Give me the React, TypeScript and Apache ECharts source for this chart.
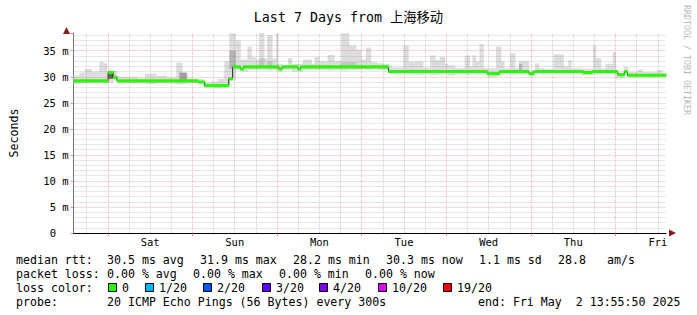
import React, { useEffect, useRef } from 'react';
import * as echarts from 'echarts';

const MONO = "'DejaVu Sans Mono', 'Noto Sans CJK SC', monospace";

const titleText = 'Last 7 Days from 上海移动';
const yAxisName = 'Seconds';
const sideText = 'RRDTOOL / TOBI OETIKER';
const dayLabels = ['Sat', 'Sun', 'Mon', 'Tue', 'Wed', 'Thu', 'Fri'];
const firstMidnightHour = 9.7;
const rangeHours = 168;
const yMax = 38.4;

// median RTT (step starts, hours since start) and values in ms
const medTimes = [0, 9.8, 11.2, 12.3, 35.3, 37.2, 44.0, 45.1, 47.3, 48.2, 58.2, 59.1, 63.6, 64.4, 89.3, 117.3, 120.7, 129.1, 130.5, 144.5, 147.0, 154.3, 156.2, 157.1];
const medValues = [29.2, 30.8, 29.9, 29.2, 29.0, 28.3, 29.6, 31.9, 31.5, 31.9, 31.5, 31.9, 31.5, 31.9, 31.0, 30.6, 31.0, 30.6, 31.0, 30.8, 31.0, 30.4, 31.0, 30.3];

// smoke segments: start hour, min rtt, max rtt
const smokeTimes = [0, 1.7, 3.1, 5.0, 7.3, 8.4, 9.5, 11.2, 12.3, 17.9, 20.2, 23.5, 26.3, 29.1, 30.8, 32.2, 36.7, 38.9, 40.9, 42.6, 42.8, 44.2, 45.9, 47.3, 49.3, 50.4, 51.5, 52.6, 54.0, 54.9, 56.3, 57.4, 58.0, 59.1, 60.8, 61.9, 65.0, 67.5, 68.3, 69.7, 72.0, 73.9, 75.9, 78.1, 80.1, 81.5, 82.9, 84.3, 86.0, 87.9, 89.3, 90.2, 93.5, 94.9, 96.9, 99.1, 101.1, 102.5, 103.9, 105.3, 106.1, 108.1, 110.9, 112.3, 113.1, 114.0, 115.1, 116.2, 117.3, 119.8, 121.2, 122.1, 123.8, 125.2, 126.3, 129.1, 130.8, 131.9, 133.3, 136.1, 138.9, 140.3, 141.1, 143.9, 147.3, 148.1, 149.5, 150.9, 152.9, 153.7, 156.0, 157.1, 159.9, 161.3, 165.5, 166.9];
const smokeLow = [28.6, 28.8, 28.8, 28.8, 28.8, 28.8, 28.9, 29.3, 28.8, 28.8, 28.6, 28.8, 28.7, 28.5, 28.6, 28.8, 28.0, 27.9, 27.9, 28.1, 28.2, 29.3, 31.3, 31.0, 31.3, 31.4, 31.3, 31.3, 31.3, 31.2, 31.3, 31.1, 31.0, 31.3, 31.3, 31.0, 31.3, 31.3, 31.3, 31.3, 31.2, 31.3, 31.2, 31.3, 31.3, 31.4, 31.3, 31.4, 31.3, 31.3, 30.6, 30.5, 30.5, 30.5, 30.4, 30.5, 30.3, 30.4, 30.5, 30.5, 30.2, 30.5, 30.3, 30.5, 30.5, 30.4, 30.4, 30.5, 29.9, 30.1, 30.5, 30.5, 30.4, 30.5, 30.5, 30.1, 30.5, 30.5, 30.6, 30.5, 30.5, 30.5, 30.6, 30.3, 30.5, 30.5, 30.6, 30.5, 30.4, 29.7, 30.2, 29.9, 29.9, 29.9, 29.9, 29.9];
const smokeHigh = [30.2, 30.8, 31.5, 31.0, 32.9, 32.6, 31.2, 31.2, 30.0, 29.7, 30.6, 30.2, 29.9, 32.7, 30.6, 29.6, 28.9, 29.1, 29.6, 31.1, 33.0, 38.4, 37.0, 33.3, 35.8, 33.8, 33.3, 38.4, 33.5, 38.0, 33.5, 38.4, 32.5, 31.9, 33.6, 32.5, 33.3, 32.5, 33.8, 33.0, 34.2, 33.0, 38.4, 36.0, 35.2, 33.3, 35.6, 32.8, 32.6, 32.5, 32.1, 31.8, 36.0, 32.9, 33.0, 31.8, 34.1, 33.2, 33.8, 32.5, 32.2, 31.7, 34.1, 32.0, 34.1, 32.9, 36.3, 31.7, 31.6, 35.8, 33.0, 31.6, 34.5, 31.7, 33.0, 31.2, 32.6, 31.7, 31.5, 34.3, 32.0, 33.2, 31.6, 31.5, 36.0, 33.6, 31.6, 32.5, 34.7, 30.8, 31.9, 30.9, 31.4, 30.9, 31.3, 30.8];

// denser smoke patches: start hour, end hour, low, high, shade
const denseStart = [9.8, 30.0, 44.2, 52.6, 54.9, 75.9, 126.3];
const denseEnd = [11.2, 32.0, 45.9, 54.0, 56.3, 80.1, 127.1];
const denseLow = [29.6, 29.3, 31.5, 31.8, 32.0, 31.8, 31.2];
const denseHigh = [30.9, 30.8, 35.0, 33.5, 33.0, 32.8, 32.5];
const denseShade = ['#606060', '#a0a0a0', '#b4b4b4', '#c4c4c4', '#c4c4c4', '#c4c4c4', '#b4b4b4'];

const medianLabel = 'median rtt:';
const medianStats = ['30.5 ms avg', '31.9 ms max', '28.2 ms min', '30.3 ms now', '1.1 ms sd', '28.8', 'am/s'];
const lossLabel = 'packet loss:';
const lossStats = ['0.00 % avg', '0.00 % max', '0.00 % min', '0.00 % now'];
const lossColorLabel = 'loss color:';
const lossColorNames = ['0', '1/20', '2/20', '3/20', '4/20', '10/20', '19/20'];
const lossColorValues = ['#26ff00', '#00b8ff', '#0059ff', '#5e00ff', '#7e00ff', '#dd00ff', '#ff0000'];
const probeLabel = 'probe:';
const probeText = '20 ICMP Echo Pings (56 Bytes) every 300s';
const endText = 'end: Fri May \u00a02 13:55:50 2025';

// layout
const medianStatX = [107, 200, 293, 386, 479, 558, 607];
const lossStatX = [107, 193, 279, 365];
const lossBoxX = [108, 145, 203, 262, 319, 378, 443];

export default function App() {
  const ref = useRef<HTMLDivElement>(null);
  useEffect(() => {
    if (!ref.current) return;
    const chart = echarts.init(ref.current, undefined, { renderer: 'svg' });

    const smokeData = smokeTimes.map((t, i) => [t, i + 1 < smokeTimes.length ? smokeTimes[i + 1] : rangeHours, smokeLow[i], smokeHigh[i]]);
    const denseData = denseStart.map((t, i) => ({ value: [t, denseEnd[i], denseLow[i], denseHigh[i]], itemStyle: { color: denseShade[i] } }));
    const greenData = medTimes.map((t, i) => [t, i + 1 < medTimes.length ? medTimes[i + 1] : rangeHours, medValues[i] - 0.3, medValues[i] + 0.3]);
    const lineData = medTimes.map((t, i) => [t, medValues[i]]);
    lineData.push([rangeHours, medValues[medValues.length - 1]]);

    const rectItem = (params: any, api: any) => {
      const p0 = api.coord([api.value(0), api.value(3)]);
      const p1 = api.coord([api.value(1), api.value(2)]);
      return {
        type: 'rect',
        shape: { x: p0[0], y: p0[1], width: p1[0] - p0[0] + 0.4, height: p1[1] - p0[1] },
        style: { fill: api.visual('color') },
      };
    };

    const gridLines: any[] = [];
    const majorStyle = { color: 'rgba(225,90,90,0.45)', type: [1, 1], width: 1 };
    const minorStyle = { color: 'rgba(140,140,140,0.4)', type: [1, 1], width: 1 };
    for (let v = 1; v <= Math.floor(yMax); v++) {
      gridLines.push({ yAxis: v, lineStyle: v % 5 === 0 ? majorStyle : minorStyle });
    }
    for (let k = -1; firstMidnightHour + 6 * k < rangeHours; k++) {
      const h = firstMidnightHour + 6 * k;
      if (h <= 0) continue;
      gridLines.push({ xAxis: h, lineStyle: k % 4 === 0 ? majorStyle : minorStyle });
    }

    const labelValues = dayLabels.map((_, i) => firstMidnightHour + 12 + 24 * i);
    const tickValues = dayLabels.map((_, i) => firstMidnightHour + 24 * i);

    const graphics: any[] = [];
    const txt = (x: number, y: number, text: string, extra: any = {}) => ({
      type: 'text', x, y,
      style: { text, fill: '#000', font: `11.6px ${MONO}`, verticalAlign: 'middle', ...extra },
    });
    graphics.push(txt(16, 259.5, medianLabel));
    medianStats.forEach((s, i) => graphics.push(txt(medianStatX[i], 259.5, s)));
    graphics.push(txt(16, 273.5, lossLabel));
    lossStats.forEach((s, i) => graphics.push(txt(lossStatX[i], 273.5, s)));
    graphics.push(txt(16, 287.5, lossColorLabel));
    lossColorNames.forEach((s, i) => {
      graphics.push({ type: 'rect', shape: { x: lossBoxX[i] + 0.5, y: 283.5, width: 8, height: 8 }, style: { fill: lossColorValues[i], stroke: '#000', lineWidth: 1 } });
      graphics.push(txt(lossBoxX[i] + 14, 287.5, s));
    });
    graphics.push(txt(16, 301.5, probeLabel));
    graphics.push(txt(107, 301.5, probeText));
    graphics.push(txt(478, 301.5, endText));
    graphics.push({
      type: 'text', x: 687, y: 5, rotation: -Math.PI / 2,
      style: { text: sideText, fill: '#b8b8b8', font: `8.3px ${MONO}`, verticalAlign: 'middle', align: 'left' },
    });
    graphics.push({ type: 'polygon', shape: { points: [[66.5, 27], [63, 34], [70, 34]] }, style: { fill: '#8b1a1a' } });
    graphics.push({ type: 'polygon', shape: { points: [[676, 233], [669, 229.5], [669, 236.5]] }, style: { fill: '#8b1a1a' } });

    chart.setOption({
      animation: false,
      backgroundColor: '#ffffff',
      textStyle: { fontFamily: MONO },
      title: {
        text: titleText, left: 'center', top: 6,
        textStyle: { fontFamily: MONO, fontSize: 13.3, fontWeight: 'normal', color: '#000' },
      },
      grid: { left: 66, right: 31, top: 33, bottom: 82, containLabel: false },
      xAxis: {
        type: 'value', min: 0, max: rangeHours,
        axisLine: { show: true, onZero: false, lineStyle: { color: '#000', width: 1 } },
        splitLine: { show: false },
        axisTick: { show: true, customValues: tickValues, length: 3, lineStyle: { color: 'rgba(225,90,90,0.7)' } },
        axisLabel: {
          customValues: labelValues, margin: 4, color: '#000', fontFamily: MONO, fontSize: 10.5,
          formatter: (v: number) => dayLabels[Math.round((v - firstMidnightHour - 12) / 24)] ?? '',
        },
      },
      yAxis: {
        type: 'value', min: 0, max: yMax, interval: 5,
        name: yAxisName, nameLocation: 'middle', nameRotate: 90, nameGap: 54,
        nameTextStyle: { fontFamily: MONO, fontSize: 11.6, color: '#000' },
        axisLine: { show: true, lineStyle: { color: '#777', width: 1 } },
        axisTick: { show: true, length: 3, lineStyle: { color: 'rgba(225,90,90,0.7)' } },
        splitLine: { show: false },
        axisLabel: {
          margin: 5, color: '#000', fontFamily: MONO, fontSize: 10.5,
          formatter: (v: number) => (v % 5 !== 0 ? '' : v === 0 ? '0\u00a0\u00a0' : `${v} m`),
        },
      },
      series: [
        {
          type: 'custom', name: 'smoke', renderItem: rectItem, data: smokeData,
          itemStyle: { color: '#dddddd' }, z: 2, clip: true, silent: true,
          encode: { x: [0, 1], y: [2, 3] },
        },
        {
          type: 'custom', name: 'dense', renderItem: rectItem, data: denseData,
          z: 2, clip: true, silent: true, encode: { x: [0, 1], y: [2, 3] },
        },
        {
          type: 'line', name: 'median', data: lineData, step: 'end', symbol: 'none', z: 3,
          lineStyle: { color: '#202020', width: 1 }, silent: true,
          markLine: { symbol: ['none', 'none'], silent: true, label: { show: false }, data: gridLines, animation: false },
        },
        {
          type: 'custom', name: 'loss0', renderItem: rectItem, data: greenData,
          itemStyle: { color: '#26ff00' }, z: 4, clip: true, silent: true,
          encode: { x: [0, 1], y: [2, 3] },
        },
      ],
      graphic: graphics,
    });
    return () => chart.dispose();
  }, []);
  return <div ref={ref} style={{ position: 'fixed', left: 0, top: 0, width: 697, height: 315, background: '#fff' }} />;
}
